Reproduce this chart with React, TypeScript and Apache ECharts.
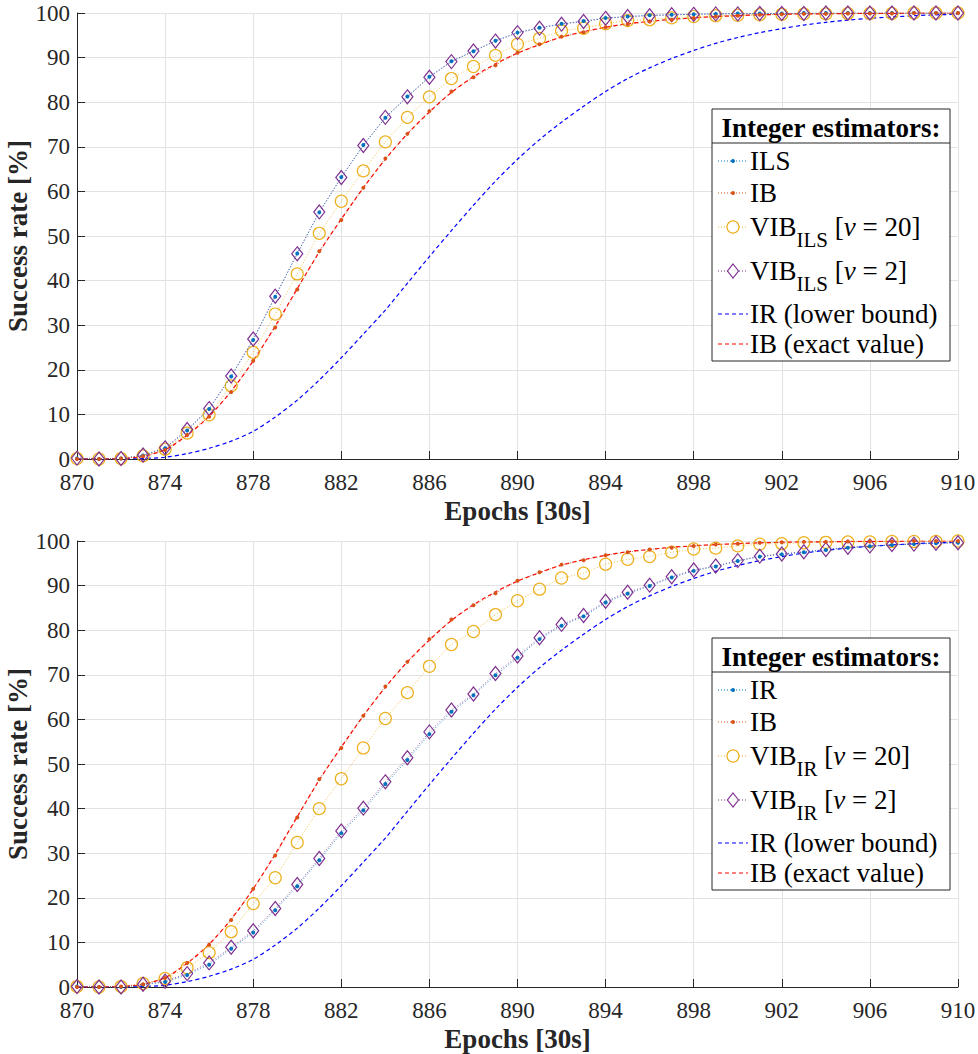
import React, { useEffect, useRef } from "react";
import * as echarts from "echarts";

const FONT = "Liberation Serif, Times New Roman, serif";

const epochs = [870, 871, 872, 873, 874, 875, 876, 877, 878, 879, 880, 881, 882, 883, 884, 885, 886, 887, 888, 889, 890, 891, 892, 893, 894, 895, 896, 897, 898, 899, 900, 901, 902, 903, 904, 905, 906, 907, 908, 909, 910];

const xTicks = [870, 874, 878, 882, 886, 890, 894, 898, 902, 906, 910];
const yTicks = [0, 10, 20, 30, 40, 50, 60, 70, 80, 90, 100];

// Top panel
const ilsTop = [0.1, 0.0, 0.1, 0.8, 2.4, 6.4, 11.2, 18.5, 26.7, 36.4, 46.1, 55.3, 63.2, 70.4, 76.5, 81.3, 85.7, 89.2, 91.4, 93.8, 95.6, 96.7, 97.6, 98.2, 98.9, 99.2, 99.5, 99.6, 99.7, 99.8, 99.9, 99.9, 99.9, 100, 100, 100, 100, 100, 100, 100, 100];
const vibIls20 = [0.1, 0.0, 0.1, 0.7, 2.2, 5.8, 9.9, 16.4, 23.9, 32.5, 41.5, 50.6, 57.8, 64.6, 71.1, 76.6, 81.2, 85.3, 88.0, 90.5, 93.0, 94.3, 96.0, 96.6, 97.6, 98.3, 98.5, 98.9, 99.2, 99.4, 99.5, 99.6, 99.7, 99.8, 99.8, 99.9, 99.9, 99.9, 100, 100, 100];
const vibIls2 = [0.2, 0.0, 0.1, 0.9, 2.5, 6.6, 11.3, 18.6, 26.9, 36.5, 46.0, 55.4, 63.1, 70.3, 76.6, 81.2, 85.6, 89.1, 91.5, 93.7, 95.6, 96.6, 97.5, 98.1, 98.8, 99.2, 99.4, 99.6, 99.7, 99.8, 99.8, 99.9, 99.9, 99.9, 100, 100, 100, 100, 100, 100, 100];

// Shared by both panels
const ibSim = [0.0, 0.0, 0.1, 0.6, 2.0, 5.4, 9.5, 15.0, 22.0, 29.5, 38.0, 46.6, 53.6, 60.8, 67.4, 72.9, 78.0, 82.4, 85.6, 88.3, 91.1, 93.0, 94.7, 95.7, 96.8, 97.5, 98.1, 98.5, 98.9, 99.2, 99.4, 99.6, 99.7, 99.8, 99.8, 99.9, 99.9, 99.9, 100, 100, 100];
const ibExact = [0.0, 0.0, 0.1, 0.6, 2.1, 5.3, 9.6, 15.2, 22.0, 29.8, 38.2, 46.4, 53.8, 60.8, 67.2, 72.9, 77.8, 82.2, 85.7, 88.6, 91.0, 92.9, 94.6, 95.8, 96.8, 97.6, 98.1, 98.6, 98.9, 99.2, 99.4, 99.6, 99.7, 99.8, 99.8, 99.9, 99.9, 99.9, 100, 100, 100];
const irBound = [0.0, 0.0, 0.0, 0.1, 0.4, 1.2, 2.4, 4.0, 6.2, 9.4, 13.2, 17.7, 22.7, 28.0, 33.4, 39.4, 45.4, 51.2, 56.9, 62.3, 67.2, 71.6, 75.5, 79.1, 82.4, 85.3, 87.7, 89.8, 91.6, 93.2, 94.5, 95.6, 96.5, 97.3, 97.9, 98.4, 98.8, 99.1, 99.4, 99.6, 99.7];

// Bottom panel
const irSim = [0.1, 0.0, 0.0, 0.5, 1.1, 2.7, 5.0, 8.6, 12.2, 17.2, 22.6, 28.4, 34.5, 39.6, 45.5, 50.9, 56.7, 61.7, 65.4, 69.9, 73.8, 78.0, 81.0, 83.1, 86.2, 88.2, 89.9, 91.8, 93.3, 94.3, 95.5, 96.5, 97.0, 97.5, 98.0, 98.5, 98.8, 99.1, 99.3, 99.5, 99.6];
const vibIr20 = [0.1, 0.0, 0.1, 0.8, 1.9, 4.3, 7.7, 12.4, 18.7, 24.5, 32.4, 40.0, 46.7, 53.6, 60.2, 66.0, 71.9, 76.8, 79.7, 83.5, 86.6, 89.2, 91.7, 92.8, 94.8, 95.9, 96.5, 97.5, 98.2, 98.4, 98.9, 99.3, 99.4, 99.6, 99.7, 99.8, 99.8, 99.9, 99.9, 99.9, 100];
const vibIr2 = [0.1, 0.0, 0.0, 0.6, 1.3, 3.0, 5.4, 8.9, 12.6, 17.6, 23.0, 28.8, 35.0, 40.1, 46.0, 51.4, 57.2, 62.1, 65.7, 70.3, 74.2, 78.3, 81.3, 83.3, 86.5, 88.5, 90.1, 92.0, 93.5, 94.4, 95.6, 96.6, 97.1, 97.6, 98.1, 98.6, 98.9, 99.2, 99.3, 99.5, 99.6];

const C_BLUE = "#0072BD";
const C_ORANGE = "#D95319";
const C_YELLOW = "#EDB120";
const C_PURPLE = "#7E2F8E";
const C_IR = "#0000FF";
const C_IBX = "#FF0000";

const pairs = (ys: number[]) => epochs.map((x, i) => [x, ys[i]]);

function measure(text: string, font: string): number {
  const ctx = document.createElement("canvas").getContext("2d");
  if (!ctx) return text.length * 12;
  ctx.font = font;
  return ctx.measureText(text).width;
}

function panelSeries(idx: number, dots: number[], v20: number[], v2: number[]) {
  const base = { type: "line", xAxisIndex: idx, yAxisIndex: idx, animation: false, z: 3 };
  return [
    {
      ...base,
      data: pairs(dots),
      symbol: "circle",
      symbolSize: 4,
      itemStyle: { color: C_BLUE },
      lineStyle: { color: C_BLUE, type: [1, 2], width: 1, opacity: 0.8 },
      z: 5,
    },
    {
      ...base,
      data: pairs(ibSim),
      symbol: "circle",
      symbolSize: 4,
      itemStyle: { color: C_ORANGE },
      lineStyle: { color: C_ORANGE, type: [1, 2], width: 1, opacity: 0.8 },
      z: 5,
    },
    {
      ...base,
      data: pairs(v20),
      symbol: "circle",
      symbolSize: 12,
      itemStyle: { color: "rgba(0,0,0,0)", borderColor: C_YELLOW, borderWidth: 1.2 },
      lineStyle: { color: C_YELLOW, type: [1, 2], width: 1, opacity: 0.8 },
    },
    {
      ...base,
      data: pairs(v2),
      symbol: "diamond",
      symbolSize: [11, 14],
      itemStyle: { color: "rgba(0,0,0,0)", borderColor: C_PURPLE, borderWidth: 1.2 },
      lineStyle: { color: C_PURPLE, type: [1, 2], width: 1, opacity: 0.8 },
    },
    {
      ...base,
      data: pairs(irBound),
      symbol: "none",
      smooth: 0.3,
      lineStyle: { color: C_IR, type: [4, 3], width: 1.2 },
    },
    {
      ...base,
      data: pairs(ibExact),
      symbol: "none",
      smooth: 0.3,
      lineStyle: { color: C_IBX, type: [4, 3], width: 1.2 },
    },
  ];
}

function axesFor(idx: number) {
  const axisCommon = {
    gridIndex: idx,
    type: "value",
    axisLine: { show: true, onZero: false, lineStyle: { color: "#262626", width: 1 } },
    axisTick: { show: true, inside: true, length: 8, lineStyle: { color: "#262626", width: 1 } },
    splitLine: { show: true, lineStyle: { color: "#e2e2e2", width: 1 } },
    nameLocation: "middle",
    nameMoveOverlap: false,
    nameTextStyle: { fontFamily: FONT, fontWeight: "bold", fontSize: 27, color: "#262626" },
  };
  const x = {
    ...axisCommon,
    min: xTicks[0],
    max: xTicks[xTicks.length - 1],
    interval: xTicks[1] - xTicks[0],
    name: "Epochs [30s]",
    nameGap: 38,
    axisLabel: { fontFamily: FONT, fontSize: 23, color: "#262626", margin: 12 },
  };
  const y = {
    ...axisCommon,
    min: yTicks[0],
    max: yTicks[yTicks.length - 1],
    interval: yTicks[1] - yTicks[0],
    name: "Success rate [%]",
    nameGap: 46,
    axisLabel: { fontFamily: FONT, fontSize: 23, color: "#262626", margin: 7 },
  };
  return { x, y };
}

function legend(y0: number, dotName: string, sub: string, pre: string) {
  const left = 712;
  const right = 950;
  const h = 252;
  const fontMain = `27px ${FONT}`;
  const fontSub = `21px ${FONT}`;
  const fontIt = `italic 27px ${FONT}`;
  const offs = [52, 84, 118, 162, 205, 235];
  const els: any[] = [];
  els.push({
    id: pre + "box",
    type: "rect",
    shape: { x: left, y: y0, width: right - left, height: h },
    style: { fill: "#ffffff", stroke: "#262626", lineWidth: 1 },
    z: 100,
  });
  els.push({
    id: pre + "sep",
    type: "polyline",
    shape: { points: [[left, y0 + 34], [right, y0 + 34]] },
    style: { stroke: "#262626", lineWidth: 1, fill: null },
    z: 101,
  });
  els.push({
    id: pre + "title",
    type: "text",
    x: (left + right) / 2,
    y: y0 + 19,
    style: { text: "Integer estimators:", font: `bold 27px ${FONT}`, fill: "#000000", align: "center", verticalAlign: "middle" },
    z: 101,
  });
  const sx1 = 718;
  const sx2 = 748;
  const mx = 733;
  const tx = 750;
  const colors = [C_BLUE, C_ORANGE, C_YELLOW, C_PURPLE, C_IR, C_IBX];
  offs.forEach((o, i) => {
    const cy = y0 + o;
    const dashed = i >= 4;
    els.push({
      id: pre + "sample" + i,
      type: "polyline",
      shape: { points: [[sx1, cy], [sx2, cy]] },
      style: { stroke: colors[i], fill: null, lineWidth: dashed ? 1.2 : 1, lineDash: dashed ? [4, 3] : [1, 2] },
      z: 101,
    });
    if (i < 2) {
      els.push({ id: pre + "mk" + i, type: "circle", shape: { cx: mx, cy, r: 2 }, style: { fill: colors[i] }, z: 102 });
    } else if (i === 2) {
      els.push({ id: pre + "mk" + i, type: "circle", shape: { cx: mx, cy, r: 6 }, style: { fill: "#ffffff", stroke: C_YELLOW, lineWidth: 1.2 }, z: 102 });
    } else if (i === 3) {
      els.push({
        id: pre + "mk" + i,
        type: "polygon",
        shape: { points: [[mx, cy - 7], [mx + 5.5, cy], [mx, cy + 7], [mx - 5.5, cy]] },
        style: { fill: "#ffffff", stroke: C_PURPLE, lineWidth: 1.2 },
        z: 102,
      });
    }
    let k = 0;
    const txt = (text: string, x: number, y: number, font: string) => ({
      id: pre + "t" + i + "_" + k++,
      type: "text",
      x,
      y,
      style: { text, font, fill: "#000000", align: "left", verticalAlign: "middle" },
      z: 102,
    });
    if (i === 0) els.push(txt(dotName, tx, cy, fontMain));
    else if (i === 1) els.push(txt("IB", tx, cy, fontMain));
    else if (i === 4) els.push(txt("IR (lower bound)", tx, cy, fontMain));
    else if (i === 5) els.push(txt("IB (exact value)", tx, cy, fontMain));
    else {
      const nu = i === 2 ? "20" : "2";
      let x = tx;
      els.push(txt("VIB", x, cy, fontMain));
      x += measure("VIB", fontMain);
      els.push(txt(sub, x, cy + 13, fontSub));
      x += measure(sub, fontSub);
      els.push(txt(" [", x, cy, fontMain));
      x += measure(" [", fontMain);
      els.push(txt("ν", x, cy, fontIt));
      x += measure("ν", fontIt);
      els.push(txt(` = ${nu}]`, x, cy, fontMain));
    }
  });
  return els;
}

export default function App() {
  const ref = useRef<HTMLDivElement>(null);
  useEffect(() => {
    document.body.style.margin = "0";
    if (!ref.current) return;
    const chart = echarts.init(ref.current, undefined, { renderer: "svg" });
    const a0 = axesFor(0);
    const a1 = axesFor(1);
    chart.setOption({
      animation: false,
      backgroundColor: "#ffffff",
      grid: [
        { left: 77, top: 13, width: 881, height: 446, containLabel: false, outerBoundsMode: "none" },
        { left: 77, top: 541, width: 881, height: 446, containLabel: false, outerBoundsMode: "none" },
      ],
      xAxis: [a0.x, a1.x],
      yAxis: [a0.y, a1.y],
      series: [
        ...panelSeries(0, ilsTop, vibIls20, vibIls2),
        ...panelSeries(1, irSim, vibIr20, vibIr2),
      ],
      graphic: [...legend(109, "ILS", "ILS", "top_"), ...legend(638, "IR", "IR", "bot_")],
    });
    return () => chart.dispose();
  }, []);
  return <div ref={ref} style={{ width: 978, height: 1054 }} />;
}
